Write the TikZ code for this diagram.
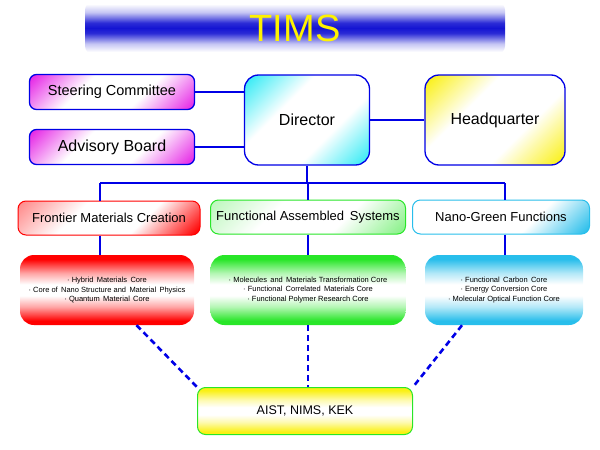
\documentclass[tikz,border=0pt]{standalone}
\usepackage{fontspec}
\setmainfont{Liberation Sans}
\definecolor{linkblue}{RGB}{0,0,230}
\definecolor{barblue}{RGB}{20,20,210}
\definecolor{skyblue}{RGB}{40,190,235}
\definecolor{leafgreen}{RGB}{40,230,40}
\definecolor{pinkish}{RGB}{230,40,230}
\definecolor{lemon}{RGB}{250,240,20}
\definecolor{aqua}{RGB}{50,235,245}
\colorlet{bandcol}{red}
\colorlet{lowcol}{red}
\colorlet{highcol}{red}

\pgfdeclareverticalshading{titlebar}{100bp}{color(0bp)=(white); color(27bp)=(white); color(35bp)=(barblue!25); color(45bp)=(barblue!90); color(50bp)=(barblue); color(55bp)=(barblue!90); color(65bp)=(barblue!25); color(73bp)=(white); color(100bp)=(white)}
\pgfdeclareverticalshading[bandcol]{band}{100bp}{color(0bp)=(bandcol); color(28bp)=(bandcol); color(38bp)=(bandcol!35); color(46bp)=(white); color(54bp)=(white); color(62bp)=(bandcol!35); color(72bp)=(bandcol); color(100bp)=(bandcol)}
\pgfdeclareverticalshading[lowcol,highcol]{diag}{100bp}{color(0bp)=(lowcol); color(16bp)=(lowcol); color(38bp)=(white); color(62bp)=(white); color(84bp)=(highcol); color(100bp)=(highcol)}

\begin{document}
\begin{tikzpicture}[
    x=1pt, y=-1pt,
    corners/.code 2 args={\colorlet{highcol}{#1}\colorlet{lowcol}{#2}},
    diagfill/.style={shading=diag, shading angle=45},
    board/.style={diagfill, draw=linkblue, line width=1.3pt, rounded corners=7pt, minimum width=165pt, minimum height=35pt},
    head/.style={diagfill, draw=linkblue, line width=1.3pt, rounded corners=14pt, minimum height=90pt, font=\fontsize{16}{18}\selectfont},
    group/.style={diagfill, line width=1pt, rounded corners=8pt, minimum height=34pt, font=\fontsize{13}{15}\selectfont},
    core/.style={shading=band, rounded corners=14pt, minimum height=70pt, align=center, font=\fontsize{7.5}{9.5}\selectfont},
    bandfill/.code={\colorlet{bandcol}{#1}},
    link/.style={linkblue, line width=2pt},
    dashlink/.style={linkblue, line width=2.6pt, dash pattern=on 6pt off 4pt}
]
\useasboundingbox (0,0) rectangle (600,450);

% Title bar
\node[shading=titlebar, rounded corners=8pt, minimum width=420pt, minimum height=52pt,
      font=\fontsize{38}{40}\selectfont, text=yellow] (title) at (295,28) {TIMS};

% Board and management
\node[board, corners={pinkish}{pinkish}, font=\fontsize{14.5}{17}\selectfont] (steer) at (112,92) {Steering Committee};
\node[board, corners={pinkish}{pinkish}, font=\fontsize{16}{18}\selectfont] (advis) at (112,147) {Advisory Board};
\node[head, minimum width=125pt, corners={aqua}{aqua}] (director) at (307,120) {Director};
\node[head, minimum width=140pt, corners={lemon}{lemon}] (hq) at (495,120) {Headquarter};

% Research groups
\node[group, draw=red, minimum width=182pt, corners={red!45}{red}] (frontier) at (109,218) {Frontier Materials Creation};
\node[group, draw=leafgreen, minimum width=195pt, corners={leafgreen!30}{leafgreen!55}] (fas) at (308,217) {Functional Assembled\, Systems};
\node[group, draw=skyblue, minimum width=177pt, corners={white}{skyblue}] (nano) at (501,217) {Nano-Green Functions};

% Cores
\node[core, bandfill=red, minimum width=174pt] (redcore) at (107,290)
    {· Hybrid\, Materials\, Core\\ · Core of\, Nano Structure and\, Material\, Physics\\ · Quantum\, Material\, Core};
\node[core, bandfill=leafgreen, minimum width=195pt] (greencore) at (308,290)
    {· Molecules\, and\, Materials Transformation Core\\ · Functional\, Correlated\, Materials Core\\ · Functional Polymer Research Core};
\node[core, bandfill=skyblue, minimum width=158pt] (bluecore) at (504,290)
    {· Functional\, Carbon\, Core\\ · Energy Conversion Core\\ · Molecular Optical Function Core};

% Partners
\node[core, bandfill=lemon, draw=leafgreen, line width=1pt, rounded corners=8pt, minimum width=215pt,
      minimum height=47pt, font=\fontsize{12.5}{14}\selectfont] (aist) at (305,411) {AIST, NIMS, KEK};

% Connections
\coordinate (busL) at (100,183);
\coordinate (busR) at (505,183);
\draw[link] (steer) -- (steer -| director.west);
\draw[link] (advis) -- (advis -| director.west);
\draw[link] (director) -- (hq);
\draw[link] (director.south) -- (director.south |- busL);
\draw[link] (busL) -- (busR);
\draw[link] (busL) -- (busL |- frontier.north);
\draw[link] (fas.north |- busL) -- (fas.north);
\draw[link] (busR) -- (busR |- nano.north);
\draw[link] (busL |- frontier.south) -- (busL |- redcore.north);
\draw[link] (fas.south) -- (greencore.north);
\draw[link] (busR |- nano.south) -- (busR |- bluecore.north);

% Dashed links to partners
\draw[dashlink] (redcore.-50) -- (aist.north west);
\draw[dashlink] (greencore.south) -- (greencore.south |- aist.north);
\draw[dashlink] (bluecore.-140) -- (aist.north east);

\end{tikzpicture}
\end{document}
